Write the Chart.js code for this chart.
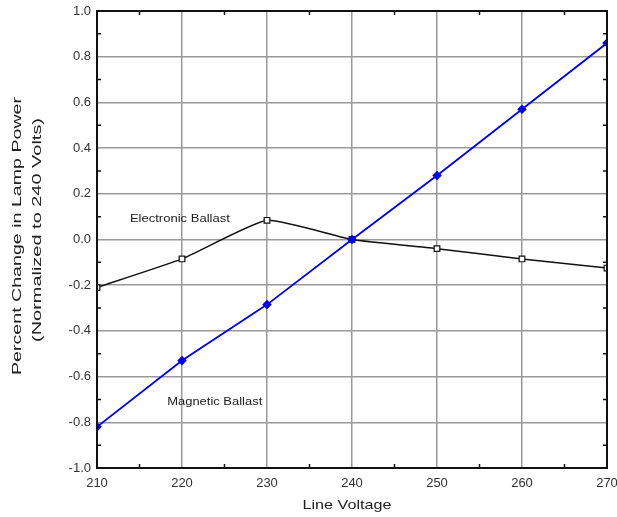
<!DOCTYPE html>
<html>
<head>
<meta charset="utf-8">
<script src="https://cdn.jsdelivr.net/npm/chart.js@4"></script>
<style>
  html, body { margin: 0; padding: 0; background: #fff; }
  #wrap { width: 617px; height: 517px; position: relative; }
</style>
</head>
<body>
<div id="wrap"><canvas id="chart"></canvas></div>
<script>
const voltages = [210, 220, 230, 240, 250, 260, 270];
const magneticBallast = [-0.82, -0.53, -0.285, 0.0, 0.28, 0.57, 0.86];
const electronicBallast = [-0.21, -0.085, 0.084, 0.0, -0.04, -0.085, -0.125];
const xTicks = [210, 220, 230, 240, 250, 260, 270];
const yTicks = [-1.0, -0.8, -0.6, -0.4, -0.2, 0.0, 0.2, 0.4, 0.6, 0.8, 1.0];

const xTitle = 'Line Voltage';
const yTitle = ['Percent Change in Lamp Power', '(Normalized to 240 Volts)'];

const font = 'Arial, "Liberation Sans", sans-serif';

// the original text is drawn wide, so stretch it along its baseline
function wideText(ctx, text, cx, cy, width, size, rot) {
    ctx.save();
    ctx.font = size + 'px ' + font;
    const w = ctx.measureText(text).width;
    ctx.translate(cx, cy);
    if (rot) ctx.rotate(rot);
    ctx.scale(width / w, 1);
    ctx.textAlign = 'center';
    ctx.textBaseline = 'middle';
    ctx.fillText(text, 0, 0);
    ctx.restore();
}

// frame, inward minor ticks, titles and series labels
const framePlugin = {
    id: 'frame',
    afterDraw(chart) {
        const { ctx, chartArea: a, scales } = chart;
        const x = scales.x, y = scales.y;
        ctx.save();
        ctx.strokeStyle = '#111';
        ctx.lineWidth = 1.5;
        for (let v = 215; v < 270; v += 10) {
            const px = x.getPixelForValue(v);
            ctx.beginPath();
            ctx.moveTo(px, a.bottom); ctx.lineTo(px, a.bottom - 4);
            ctx.moveTo(px, a.top); ctx.lineTo(px, a.top + 4);
            ctx.stroke();
        }
        for (let v = -0.9; v < 1; v += 0.2) {
            const py = y.getPixelForValue(v);
            ctx.beginPath();
            ctx.moveTo(a.left, py); ctx.lineTo(a.left + 4, py);
            ctx.moveTo(a.right, py); ctx.lineTo(a.right - 4, py);
            ctx.stroke();
        }
        ctx.lineWidth = 2;
        ctx.strokeRect(a.left, a.top, a.right - a.left, a.bottom - a.top);

        ctx.fillStyle = '#222';
        wideText(ctx, 'Electronic Ballast', x.getPixelForValue(219.75), y.getPixelForValue(0.09), 100, 11.5);
        wideText(ctx, 'Magnetic Ballast', x.getPixelForValue(223.85), y.getPixelForValue(-0.71), 95, 11.5);

        wideText(ctx, xTitle, 347, 505, 89, 13);
        wideText(ctx, yTitle[0], 18, 236, 278, 12.5, -Math.PI / 2);
        wideText(ctx, yTitle[1], 38, 230, 224, 12.5, -Math.PI / 2);
        ctx.restore();
    }
};

new Chart(document.getElementById('chart'), {
    type: 'line',
    data: {
        datasets: [
            {
                label: 'Magnetic Ballast',
                data: voltages.map((v, i) => ({ x: v, y: magneticBallast[i] })),
                borderColor: '#0000ee',
                backgroundColor: '#0000ee',
                borderWidth: 1.8,
                pointStyle: 'rectRot',
                pointRadius: 3.5,
                tension: 0
            },
            {
                label: 'Electronic Ballast',
                data: voltages.map((v, i) => ({ x: v, y: electronicBallast[i] })),
                borderColor: '#111',
                backgroundColor: '#fff',
                borderWidth: 1.5,
                pointStyle: 'rect',
                pointRadius: 4,
                pointBorderWidth: 1.2,
                tension: 0.15
            }
        ]
    },
    options: {
        responsive: true,
        maintainAspectRatio: false,
        animation: false,
        layout: { padding: { top: 11, right: 10, left: 0, bottom: 0 } },
        plugins: { legend: { display: false }, tooltip: { enabled: false } },
        scales: {
            x: {
                type: 'linear',
                min: 210, max: 270,
                afterBuildTicks: s => { s.ticks = xTicks.map(v => ({ value: v })); },
                grid: { color: '#999', lineWidth: 1.5, drawTicks: false },
                border: { display: false },
                ticks: { color: '#333', font: { family: font, size: 13 }, padding: 8, maxRotation: 0 },
                afterFit: s => { s.height = 49; s.paddingLeft = 0; s.paddingRight = 0; }
            },
            y: {
                type: 'linear',
                min: -1, max: 1,
                afterBuildTicks: s => { s.ticks = yTicks.map(v => ({ value: v })); },
                grid: { color: '#999', lineWidth: 1.5, drawTicks: false },
                border: { display: false },
                ticks: { color: '#333', font: { family: font, size: 13 }, padding: 6, callback: v => v.toFixed(1) },
                afterFit: s => { s.width = 97; s.paddingTop = 0; s.paddingBottom = 0; }
            }
        }
    },
    plugins: [framePlugin]
});
</script>
</body>
</html>
